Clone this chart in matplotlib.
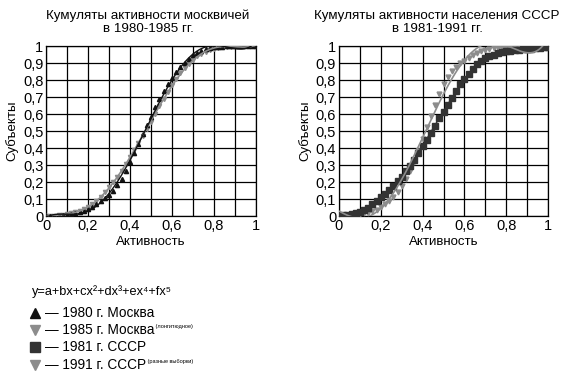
import numpy as np
import matplotlib
matplotlib.use("Agg")
import matplotlib.pyplot as plt
from matplotlib.ticker import FuncFormatter

plt.rcParams['font.family'] = ['Liberation Sans', 'DejaVu Sans']

# общая ось активности (шаг 0,02)
x = [round(i * 0.02, 2) for i in range(51)]

moscow_1980 = [0.000, 0.000, 0.001, 0.002, 0.004, 0.007, 0.011, 0.016, 0.023, 0.031,
               0.042, 0.055, 0.070, 0.087, 0.105, 0.125, 0.150, 0.180, 0.215, 0.262,
               0.315, 0.370, 0.425, 0.480, 0.535, 0.585, 0.640, 0.690, 0.735, 0.775,
               0.810, 0.845, 0.875, 0.900, 0.925, 0.945, 0.960, 0.972, 0.981, 0.988,
               0.992, 0.995, 0.997, 0.998, 0.999, 0.999, 1.000, 1.000, 1.000, 1.000,
               1.000]
moscow_1985 = [0.000, 0.001, 0.002, 0.004, 0.007, 0.011, 0.016, 0.022, 0.030, 0.040,
               0.052, 0.068, 0.088, 0.112, 0.140, 0.170, 0.200, 0.232, 0.265, 0.305,
               0.345, 0.390, 0.430, 0.470, 0.515, 0.555, 0.600, 0.645, 0.690, 0.730,
               0.770, 0.805, 0.840, 0.870, 0.895, 0.920, 0.940, 0.955, 0.968, 0.978,
               0.985, 0.990, 0.993, 0.995, 0.997, 0.998, 0.999, 0.999, 1.000, 1.000,
               1.000]
ussr_1981 = [0.000, 0.003, 0.007, 0.012, 0.018, 0.026, 0.036, 0.050, 0.068, 0.088,
             0.110, 0.130, 0.152, 0.178, 0.205, 0.232, 0.262, 0.295, 0.330, 0.368,
             0.410, 0.450, 0.488, 0.530, 0.575, 0.615, 0.655, 0.695, 0.735, 0.775,
             0.805, 0.838, 0.868, 0.892, 0.912, 0.928, 0.940, 0.950, 0.958, 0.965,
             0.970, 0.974, 0.977, 0.980, 0.982, 0.984, 0.986, 0.988, 0.990, 0.993,
             0.996]
ussr_1991 = [0.000, 0.002, 0.004, 0.006, 0.008, 0.011, 0.015, 0.020, 0.028, 0.038,
             0.052, 0.068, 0.088, 0.112, 0.140, 0.175, 0.215, 0.265, 0.320, 0.385,
             0.455, 0.525, 0.590, 0.655, 0.720, 0.775, 0.820, 0.855, 0.880, 0.900,
             0.915, 0.930, 0.945, 0.958, 0.970, 0.980, 0.985, 0.988, 0.990, 0.991,
             0.992, 0.993, 0.993, 0.994, 0.994, 0.995, 0.995, 0.996, 0.997, 0.997,
             0.998]

titles = ["Кумуляты активности москвичей\nв 1980-1985 гг.",
          "Кумуляты активности населения СССР\nв 1981-1991 гг."]
legend_labels = ["— 1980 г. Москва", "— 1985 г. Москва", "— 1981 г. СССР", "— 1991 г. СССР"]
legend_notes = [None, "(лонгитюдное)", None, "(разные выборки)"]

BLACK = "#111111"
DARK = "#333333"
GRAY = "#8c8c8c"

comma = FuncFormatter(lambda v, p: ("%g" % round(v, 1)).replace(".", ","))


def trend(ax, xs, ys, color, lw):
    # полиномиальный тренд 5-й степени
    coef = np.polyfit(xs, ys, 5)
    xx = np.linspace(0, 1, 200)
    ax.plot(xx, np.polyval(coef, xx), color=color, lw=lw, zorder=4)


def setup(ax, title, tx):
    ax.set_xlim(0, 1)
    ax.set_ylim(0, 1)
    ax.set_xticks(np.arange(0, 1.01, 0.1))
    ax.set_yticks(np.arange(0, 1.01, 0.1))
    ax.set_xticklabels(["0", "", "0,2", "", "0,4", "", "0,6", "", "0,8", "", "1"])
    ax.yaxis.set_major_formatter(comma)
    ax.grid(True, color="black", lw=0.9)
    ax.tick_params(length=0, labelsize=10.5, pad=2)
    for s in ax.spines.values():
        s.set_linewidth(0.9)
    ax.set_xlabel("Активность", fontsize=9.5, labelpad=2)
    ax.set_ylabel("Субъекты", fontsize=9.5, labelpad=3)
    t = ax.set_title(title, fontsize=9.6, pad=10, linespacing=1.15)
    t.set_x(tx)
    ax.set_axisbelow(True)


fig = plt.figure(figsize=(5.62, 3.75), dpi=100)
ax1 = fig.add_axes([0.0819, 0.424, 0.3737, 0.453])
ax2 = fig.add_axes([0.6032, 0.424, 0.3719, 0.453])

setup(ax1, titles[0], 0.486)
ax1.plot(x, moscow_1985, ls="none", marker="v", ms=3, color=GRAY, zorder=3)
ax1.plot(x, moscow_1980, ls="none", marker="^", ms=3, color=BLACK, zorder=3)
trend(ax1, x, moscow_1985, GRAY, 1.2)
trend(ax1, x, moscow_1980, BLACK, 1.0)

setup(ax2, titles[1], 0.47)
ax2.plot(x, ussr_1991, ls="none", marker="v", ms=3.5, color=GRAY, zorder=3)
ax2.plot(x, ussr_1981, ls="none", marker="s", ms=4.5, color=DARK, zorder=3)
trend(ax2, x, ussr_1981, DARK, 1.0)
trend(ax2, x, ussr_1991, GRAY, 1.2)

# подписи-легенда внизу
fig.text(32 / 562, 1 - 292 / 375, "y=a+bx+cx²+dx³+ex⁴+fx⁵", fontsize=9.2, va="center")
markers = ["^", "v", "s", "v"]
colors = [BLACK, GRAY, DARK, GRAY]
ys = [313, 330, 347, 365]
for m, c, yy, lab, note in zip(markers, colors, ys, legend_labels, legend_notes):
    fy = 1 - yy / 375
    fig.lines.append(plt.Line2D([35 / 562], [fy], marker=m, color=c, ms=7,
                                transform=fig.transFigure, ls="none"))
    t = fig.text(45 / 562, fy, lab, fontsize=9.8, va="center")
    if note:
        a = plt.Annotation(" " + note, xy=(1, 0.95), xycoords=t,
                           fontsize=4, va="top", ha="left")
        a.set_figure(fig)
        fig.texts.append(a)

fig.savefig("out.png", dpi=100)
